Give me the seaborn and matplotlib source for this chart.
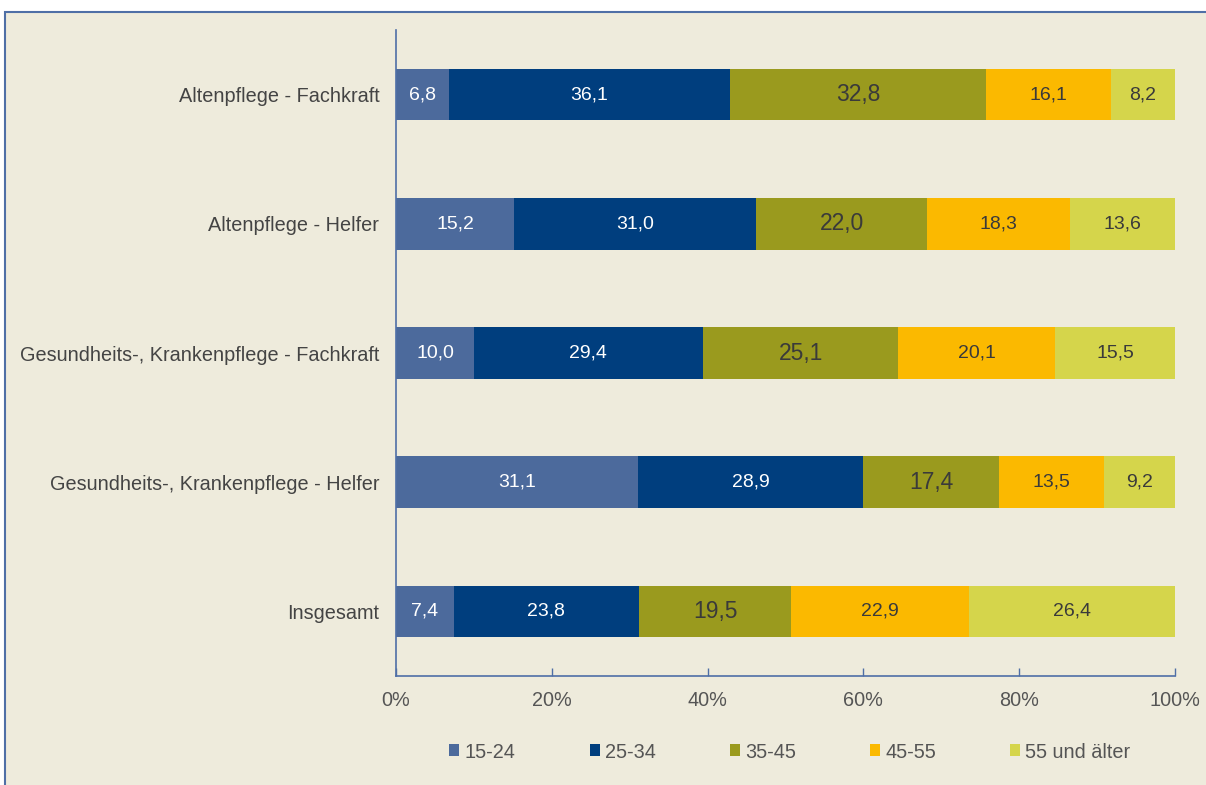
import matplotlib
matplotlib.use("Agg")
import matplotlib.pyplot as plt
from matplotlib.patches import Patch, Rectangle
import numpy as np
import pandas as pd
import seaborn as sns

# Data (share in %)
categories = [
    "Altenpflege - Fachkraft",
    "Altenpflege - Helfer",
    "Gesundheits-, Krankenpflege - Fachkraft",
    "Gesundheits-, Krankenpflege - Helfer",
    "Insgesamt",
]
age_groups = ["15-24", "25-34", "35-45", "45-55", "55 und älter"]
share_15_24 = [6.8, 15.2, 10.0, 31.1, 7.4]
share_25_34 = [36.1, 31.0, 29.4, 28.9, 23.8]
share_35_45 = [32.8, 22.0, 25.1, 17.4, 19.5]
share_45_55 = [16.1, 18.3, 20.1, 13.5, 22.9]
share_55_plus = [8.2, 13.6, 15.5, 9.2, 26.4]
x_ticks = [0, 20, 40, 60, 80, 100]

colors = ["#4C6A9C", "#003E7E", "#9A9A1E", "#FBB900", "#D5D54B"]
label_colors = ["white", "white", "#3A3A3A", "#3A3A3A", "#3A3A3A"]
label_sizes = [14, 14, 16.5, 14, 14]
bg = "#EEEBDC"
line_blue = "#4F6FA6"
text_grey = "#555555"
fs = 14.3

sns.set_theme(style="white")
plt.rcParams["font.family"] = ["Liberation Sans", "DejaVu Sans"]

shares = np.array([share_15_24, share_25_34, share_35_45, share_45_55, share_55_plus])
cum = np.cumsum(shares, axis=0)

fig = plt.figure(figsize=(12.06, 7.85), dpi=100)
fig.patch.set_facecolor("white")
frame = Rectangle((5 / 1206, -0.02), 1.1, (785 - 12) / 785 + 0.02,
                  transform=fig.transFigure, facecolor=bg,
                  edgecolor=line_blue, linewidth=1.5, zorder=-5)
fig.patches.append(frame)

ax = fig.add_axes([396 / 1206, 1 - 676 / 785, (1175 - 396) / 1206, (676 - 30) / 785])
ax.set_facecolor("none")
ax.set_zorder(2)

# stacked bars: draw cumulative totals from the outermost segment inwards
for i in range(len(age_groups) - 1, -1, -1):
    df = pd.DataFrame({"Kategorie": categories, "Wert": np.minimum(cum[i], 100)})
    sns.barplot(data=df, x="Wert", y="Kategorie", orient="h", color=colors[i],
                saturation=1, width=0.4, errorbar=None, linewidth=0, ax=ax, zorder=2)

# value labels
for i in range(len(age_groups)):
    starts = cum[i] - shares[i]
    for j, v in enumerate(shares[i]):
        ax.text(starts[j] + v / 2, j, f"{v:.1f}".replace(".", ","),
                ha="center", va="center", color=label_colors[i],
                fontsize=label_sizes[i], zorder=3)

ax.set_xlim(0, 100)
ax.set_ylim(4.5, -0.5)
ax.set_xticks(x_ticks)
ax.set_xticklabels([f"{t}%" for t in x_ticks])
ax.set_xlabel("")
ax.set_ylabel("")
ax.tick_params(axis="x", direction="in", length=6, color=line_blue, width=1,
               bottom=True, labelsize=fs, labelcolor=text_grey, pad=11)
ax.tick_params(axis="y", length=0, labelsize=fs, labelcolor="#444444", pad=12)
for side in ["top", "right"]:
    ax.spines[side].set_visible(False)
for side in ["left", "bottom"]:
    ax.spines[side].set_color(line_blue)
    ax.spines[side].set_linewidth(1.2)

handles = [Patch(facecolor=c, edgecolor="none") for c in colors]
leg = fig.legend(handles, age_groups, loc="center", bbox_to_anchor=(0.655, 1 - 752 / 785),
                 ncol=5, frameon=False, fontsize=fs, handlelength=0.5,
                 handleheight=0.55, handletextpad=0.25, columnspacing=3.75)
for t in leg.get_texts():
    t.set_color(text_grey)

fig.savefig("out.png", dpi=100, facecolor=fig.get_facecolor())
